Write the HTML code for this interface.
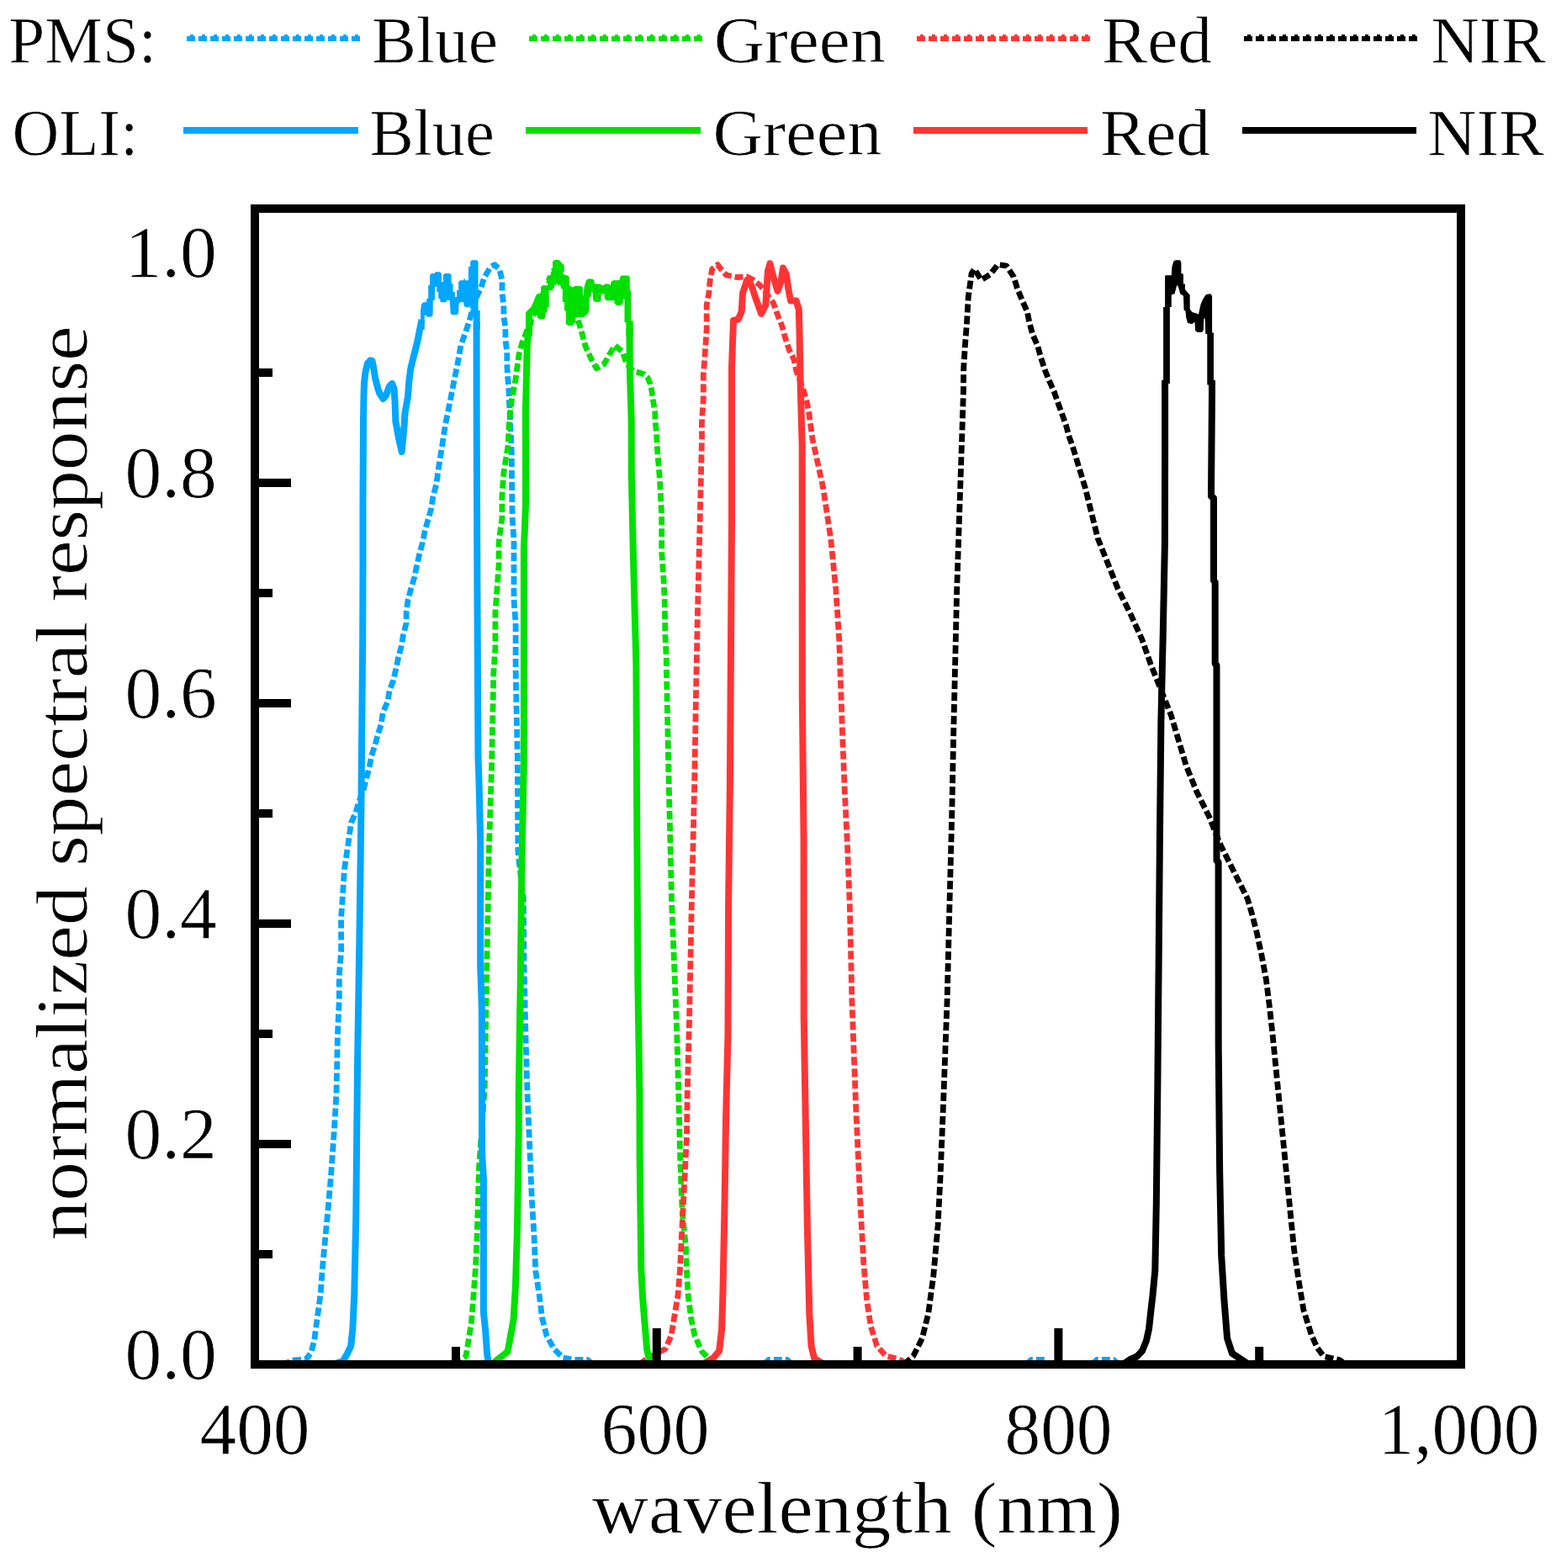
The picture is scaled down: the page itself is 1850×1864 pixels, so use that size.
<!DOCTYPE html>
<html><head><meta charset="utf-8"><title>Spectral response</title>
<style>
html,body{margin:0;padding:0;background:#fff;}
body{width:1850px;height:1864px;overflow:hidden;}
svg{display:block;}
text{font-family:"Liberation Serif", "DejaVu Serif", serif;fill:#000;stroke:#fff;stroke-width:0.7px;}
</style></head>
<body>
<svg width="1850" height="1864" viewBox="0 0 1850 1864">
<rect width="1850" height="1864" fill="#fff"/>
<g id="legend" shape-rendering="crispEdges">
<line x1="222" y1="46" x2="428" y2="46" stroke="#00A6FF" stroke-width="6" stroke-dasharray="10 4"/>
<line x1="628.5" y1="46" x2="835" y2="46" stroke="#00E000" stroke-width="6" stroke-dasharray="10 4"/>
<line x1="1090" y1="46" x2="1295.5" y2="46" stroke="#FF3535" stroke-width="6" stroke-dasharray="10 4"/>
<line x1="1478.5" y1="46" x2="1685" y2="46" stroke="#000000" stroke-width="6" stroke-dasharray="10 4"/>
<line x1="226" y1="42" x2="428" y2="42" stroke="#00A6FF" stroke-width="2" stroke-dasharray="4 10"/>
<line x1="632.5" y1="42" x2="835" y2="42" stroke="#00E000" stroke-width="2" stroke-dasharray="4 10"/>
<line x1="1094" y1="42" x2="1295.5" y2="42" stroke="#FF3535" stroke-width="2" stroke-dasharray="4 10"/>
<line x1="1482.5" y1="42" x2="1685" y2="42" stroke="#000000" stroke-width="2" stroke-dasharray="4 10"/>
<line x1="218" y1="155" x2="425.5" y2="155" stroke="#00A6FF" stroke-width="8"/>
<line x1="624.5" y1="155" x2="832.5" y2="155" stroke="#00E000" stroke-width="8"/>
<line x1="1086" y1="155" x2="1293" y2="155" stroke="#FF3535" stroke-width="8"/>
<line x1="1477" y1="155" x2="1684" y2="155" stroke="#000000" stroke-width="8"/>
</g>
<g id="texts">
<text x="10.3" y="74" font-size="78" textLength="176" lengthAdjust="spacingAndGlyphs">PMS:</text>
<text x="442" y="74" font-size="78" textLength="150" lengthAdjust="spacingAndGlyphs">Blue</text>
<text x="848.7" y="74" font-size="78" textLength="204" lengthAdjust="spacingAndGlyphs">Green</text>
<text x="1310" y="74" font-size="78" textLength="131" lengthAdjust="spacingAndGlyphs">Red</text>
<text x="1701.4" y="74" font-size="78" textLength="136.3" lengthAdjust="spacingAndGlyphs">NIR</text>
<text x="14.5" y="183.5" font-size="78" textLength="150" lengthAdjust="spacingAndGlyphs">OLI:</text>
<text x="439.5" y="183.5" font-size="78" textLength="148.5" lengthAdjust="spacingAndGlyphs">Blue</text>
<text x="847.4" y="183.5" font-size="78" textLength="201" lengthAdjust="spacingAndGlyphs">Green</text>
<text x="1308" y="183.5" font-size="78" textLength="131" lengthAdjust="spacingAndGlyphs">Red</text>
<text x="1697.2" y="183.5" font-size="78" textLength="139" lengthAdjust="spacingAndGlyphs">NIR</text>
<text x="148.4" y="1639.0" font-size="86" textLength="109.5" lengthAdjust="spacingAndGlyphs">0.0</text>
<text x="148.4" y="1377.0" font-size="86" textLength="109.5" lengthAdjust="spacingAndGlyphs">0.2</text>
<text x="148.4" y="1115.0" font-size="86" textLength="109.5" lengthAdjust="spacingAndGlyphs">0.4</text>
<text x="148.4" y="853.0" font-size="86" textLength="109.5" lengthAdjust="spacingAndGlyphs">0.6</text>
<text x="148.4" y="591.0" font-size="86" textLength="109.5" lengthAdjust="spacingAndGlyphs">0.8</text>
<text x="148.4" y="329.0" font-size="86" textLength="109.5" lengthAdjust="spacingAndGlyphs">1.0</text>
<text x="237.5" y="1727.5" font-size="86" textLength="131" lengthAdjust="spacingAndGlyphs">400</text>
<text x="714.6" y="1727.5" font-size="86" textLength="129" lengthAdjust="spacingAndGlyphs">600</text>
<text x="1194.5" y="1727.5" font-size="86" textLength="128" lengthAdjust="spacingAndGlyphs">800</text>
<text x="1638.5" y="1727.5" font-size="86" textLength="192" lengthAdjust="spacingAndGlyphs">1,000</text>
<text x="704" y="1821.5" font-size="86" textLength="631" lengthAdjust="spacingAndGlyphs">wavelength (nm)</text>
<text transform="translate(103,1474.5) rotate(-90)" x="0" y="0" font-size="86" textLength="1087" lengthAdjust="spacingAndGlyphs">normalized spectral response</text>
</g>
<g id="curves" fill="none" stroke-linejoin="round" stroke-linecap="butt">
<polyline points="335.0,1622.0 349.5,1617.0 363.7,1616.0 369.6,1608.7 373.5,1594.4 377.4,1565.8 381.2,1537.3 383.2,1510.0 385.8,1481.5 389.7,1441.3 393.6,1397.0 395.5,1369.7 397.5,1341.2 400.0,1299.7 401.4,1231.0 403.3,1188.1 403.3,1159.6 405.6,1131.0 405.6,1090.8 407.6,1062.3 409.4,1033.7 413.7,1005.2 415.6,990.9 417.6,978.0 422.8,966.3 426.7,953.3 432.5,937.7 435.7,924.8 439.0,913.1 441.6,898.8 445.5,887.1 449.4,872.9 453.2,861.2 455.2,847.0 461.0,834.0 463.0,821.0 467.5,809.3 470.8,795.0 473.4,782.7 477.3,767.8 479.2,756.1 483.1,740.5 483.1,727.6 485.0,713.3 488.9,699.0 492.8,686.0 495.4,673.1 498.7,658.8 502.5,644.5 505.1,631.6 509.0,617.3 512.9,604.3 514.9,590.0 518.8,575.8 520.7,561.5 522.7,548.5 524.6,536.9 527.2,520.0 529.7,504.0 535.0,478.0 540.0,452.0 544.0,432.7 547.9,410.7 553.0,396.4 558.3,380.8 563.0,362.0 568.0,350.0 572.0,342.0 575.6,330.2 583.4,317.2 587.9,314.6 593.7,319.8 597.0,332.8 597.0,348.4 598.9,362.7 598.9,375.6 600.9,389.9 600.9,404.2 602.8,418.4 602.8,432.7 603.5,447.0 604.8,461.3 605.4,475.5 606.1,489.8 606.7,504.1 607.4,518.3 608.4,540.0 608.4,560.0 609.1,614.3 611.0,642.4 611.0,712.7 613.1,740.8 613.1,795.6 615.3,901.6 615.9,1013.0 622.3,1069.0 623.1,1152.6 625.1,1236.3 627.1,1302.0 628.9,1343.6 630.7,1385.4 632.4,1427.3 635.0,1469.1 636.8,1511.0 641.1,1538.9 644.6,1566.8 649.9,1587.7 658.6,1603.4 669.0,1613.9 683.0,1616.5 698.7,1616.5 705.0,1622.0" stroke="#00A6FF" stroke-width="6.8" stroke-dasharray="10 4" />
<polyline points="908.0,1622.0 914.0,1616.5 936.0,1616.5 942.0,1622.0" stroke="#00A6FF" stroke-width="6.8" stroke-dasharray="10 4" />
<polyline points="1220.0,1622.0 1226.0,1616.5 1242.0,1616.5 1248.0,1622.0" stroke="#00A6FF" stroke-width="6.8" stroke-dasharray="10 4" />
<polyline points="1298.0,1622.0 1304.0,1616.5 1324.0,1616.5 1330.0,1622.0" stroke="#00A6FF" stroke-width="6.8" stroke-dasharray="10 4" />
<polyline points="540.0,1622.0 554.0,1612.0 556.6,1596.4 560.6,1570.3 562.7,1544.0 565.3,1509.0 567.0,1474.4 569.6,1387.0 576.3,1292.0 577.7,1208.0 579.0,1136.0 580.4,1069.0 581.3,1013.0 584.6,910.0 586.9,798.4 588.9,770.3 588.9,728.2 590.9,701.5 593.1,672.0 593.1,645.2 594.8,631.2 596.9,615.7 596.9,589.0 599.0,561.0 604.0,530.0 605.4,504.1 608.0,478.1 610.6,463.8 613.2,449.6 615.1,435.3 617.1,421.0 621.0,406.8 624.9,397.7 629.0,385.0 633.0,377.0 637.0,369.0 641.0,360.0 645.0,350.0 649.0,342.0 654.0,334.0 658.5,325.0 661.0,317.0 662.5,313.5 665.0,317.0 667.0,322.0 670.0,332.0 673.0,342.0 676.0,352.0 679.0,362.0 682.0,370.0 686.0,378.0 689.0,386.0 692.3,397.7 696.2,412.0 702.7,426.2 709.2,437.9 718.3,432.7 724.8,421.0 731.2,410.7 740.3,418.4 744.2,430.1 749.4,438.0 754.0,441.5 760.0,443.0 766.0,445.0 770.0,449.0 773.0,456.0 775.0,465.0 776.5,476.0 778.6,488.5 779.3,502.8 780.6,515.7 781.2,530.0 784.6,572.2 786.7,614.3 786.7,656.5 788.8,684.6 790.2,712.7 790.9,754.9 792.3,783.0 792.4,795.6 795.2,929.5 798.5,1069.0 804.5,1218.9 806.8,1300.0 808.5,1369.7 811.1,1439.5 815.5,1483.0 816.4,1509.2 818.1,1538.9 821.6,1566.8 826.0,1587.7 834.7,1606.9 841.7,1613.9 850.0,1622.0" stroke="#00E000" stroke-width="6.8" stroke-dasharray="10 4" />
<polyline points="760.0,1622.0 768.4,1615.6 791.1,1603.4 798.1,1587.7 801.5,1566.8 805.9,1540.6 808.5,1509.2 811.1,1456.9 813.8,1404.6 816.4,1352.3 817.2,1300.0 819.4,1218.9 822.3,1076.0 825.5,940.5 827.6,820.4 829.4,730.3 832.4,610.0 834.5,520.0 834.4,502.8 836.3,474.2 836.3,445.7 838.3,419.7 840.2,391.2 840.2,362.7 842.8,348.4 844.1,334.1 846.7,319.8 853.2,314.6 857.1,319.8 863.6,327.0 876.5,329.6 888.2,328.9 896.0,333.0 903.8,339.3 912.0,350.0 919.4,360.0 924.5,374.3 929.7,387.3 933.6,401.6 938.2,415.8 944.0,427.5 946.6,440.5 951.0,452.0 955.7,465.1 959.6,479.4 962.2,493.7 964.1,508.0 966.0,522.0 978.7,580.0 987.7,640.2 993.8,700.2 997.7,760.3 999.8,820.4 1001.9,880.5 1004.3,940.5 1007.3,1000.6 1010.3,1075.7 1012.9,1189.0 1017.3,1308.2 1022.7,1427.2 1026.8,1501.7 1030.7,1546.3 1035.2,1576.1 1042.6,1600.0 1053.0,1611.8 1068.0,1615.5 1080.0,1622.0" stroke="#FF3535" stroke-width="6.8" stroke-dasharray="10 4" />
<polyline points="1075.0,1622.0 1086.0,1611.8 1096.4,1591.0 1103.8,1561.2 1109.8,1516.6 1115.1,1457.0 1118.1,1397.5 1121.7,1308.2 1126.1,1189.0 1129.1,1070.0 1131.7,970.6 1133.5,880.5 1135.6,790.4 1137.7,700.2 1140.7,610.1 1143.7,520.0 1145.4,466.4 1145.7,437.9 1147.4,410.7 1149.6,382.1 1151.2,353.6 1153.2,339.3 1155.1,325.0 1158.4,319.8 1166.8,332.8 1177.2,326.3 1186.3,314.6 1196.7,316.0 1205.1,328.9 1209.6,343.2 1215.5,357.5 1221.3,370.4 1223.9,383.4 1227.8,397.7 1233.6,410.7 1237.5,424.9 1242.1,439.2 1247.3,452.2 1253.1,465.1 1257.6,478.1 1262.8,492.4 1267.4,505.4 1271.3,519.6 1275.1,530.0 1290.3,580.1 1305.3,640.2 1317.3,670.2 1329.3,700.2 1344.3,730.3 1357.9,760.3 1368.4,790.4 1380.4,820.4 1392.4,850.4 1401.4,880.5 1410.4,910.5 1422.5,940.5 1437.5,970.6 1449.5,1000.6 1451.7,1005.5 1462.8,1027.7 1474.0,1050.0 1483.2,1068.4 1488.7,1087.0 1494.3,1109.0 1499.9,1135.0 1505.4,1164.7 1509.1,1194.3 1512.8,1227.6 1516.5,1264.6 1520.2,1301.6 1523.9,1338.6 1527.6,1375.6 1531.3,1412.6 1535.0,1449.6 1538.7,1486.6 1544.3,1523.6 1549.8,1557.0 1559.1,1586.6 1566.0,1602.0 1573.9,1612.5 1592.4,1616.5 1600.0,1622.0" stroke="#000000" stroke-width="6.8" stroke-dasharray="10 4" />
<polyline points="395.0,1622.0 407.8,1618.0 413.0,1609.0 417.2,1600.0 419.3,1580.0 421.2,1540.0 423.2,1450.0 425.1,1260.0 427.3,1120.0 429.2,980.0 431.2,760.0 431.5,674.0 431.5,600.0 432.0,500.0 432.5,470.0 433.0,455.0 434.5,442.0 437.0,432.0 440.0,428.5 442.5,429.0 444.0,436.0 446.0,449.0 448.5,459.0 451.0,467.0 455.5,474.0 459.0,470.0 462.5,460.0 466.1,456.0 468.5,462.0 469.5,476.6 470.4,500.8 473.8,520.1 477.7,537.0 480.6,505.6 481.5,491.1 484.9,471.8 486.4,452.5 488.3,438.0 491.5,425.0 494.0,415.0 496.5,405.0 499.0,392.0 501.5,380.0" stroke="#00A6FF" stroke-width="8" />
<polyline points="566.7,382.0 566.6,400.0 566.7,500.0 567.4,700.0 568.5,900.0 569.3,922.0 571.2,1000.0 571.2,1149.0 572.9,1200.0 573.1,1373.0 574.9,1400.0 574.9,1559.8 577.0,1580.0 579.2,1610.0 581.0,1622.0" stroke="#00A6FF" stroke-width="8" />
<polygon points="500.0,392.0 500.0,369.0 501.2,361.3 503.4,359.2 507.2,359.2 507.2,355.0 509.2,355.0 509.2,339.1 511.1,339.1 511.1,327.0 513.0,325.1 517.1,325.1 517.1,323.2 522.9,323.2 524.9,325.1 524.9,335.2 527.0,335.2 527.0,327.0 529.0,325.1 534.8,325.1 536.7,327.0 536.7,337.2 538.6,337.2 538.6,347.1 540.8,347.1 540.8,353.1 543.0,353.1 543.0,345.1 545.1,345.1 545.1,335.2 547.1,333.3 551.2,333.3 551.2,331.4 552.9,331.4 552.9,333.3 557.0,333.3 557.0,317.1 559.2,317.1 559.2,311.1 561.1,309.2 566.9,309.2 568.6,311.1 568.6,369.0 570.7,369.0 570.7,392.0 562.8,392.0 562.8,376.0 559.5,376.0 559.2,367.6 561.0,367.6 561.0,363.0 558.8,362.8 558.3,365.2 553.3,365.2 551.5,363.0 551.2,359.2 547.3,359.2 545.6,361.0 545.1,372.4 542.9,374.3 537.6,374.3 535.6,372.4 534.8,357.1 531.1,357.1 530.6,359.2 523.6,359.2 523.2,355.0 521.2,355.0 521.2,347.1 519.3,347.1 519.3,341.1 517.1,341.1 516.9,357.1 514.8,357.1 514.6,374.8 512.3,376.7 507.7,376.7 506.8,374.8 504.8,374.8 504.8,392.0" fill="#00A6FF" stroke="none"/>
<polyline points="585.0,1622.0 592.3,1615.6 603.6,1606.9 607.1,1587.7 610.6,1568.5 612.9,1530.0 615.0,1461.3 616.7,1345.3 616.7,1300.0 618.9,1158.2 620.3,1032.7 622.8,907.0 622.9,800.0 622.9,652.3 625.0,600.0 625.0,530.0 624.9,489.8 626.8,409.4 628.9,390.0" stroke="#00E000" stroke-width="8" />
<polyline points="748.5,390.0 748.6,410.0 748.8,438.0 750.7,500.0 750.8,562.3 752.5,644.5 754.6,724.7 756.4,790.0 757.0,935.0 758.4,1169.4 760.4,1300.0 760.6,1373.2 762.3,1507.5 764.1,1542.4 766.7,1575.5 769.3,1605.0 771.9,1615.6 780.0,1622.0" stroke="#00E000" stroke-width="8" />
<polygon points="625.0,400.0 625.0,371.4 627.0,369.2 631.3,364.9 633.1,361.2 635.0,356.9 637.2,351.0 639.3,349.1 643.1,348.8 643.1,341.3 645.2,339.2 651.1,339.2 651.1,334.9 649.0,332.2 651.1,327.4 654.9,326.8 654.9,323.1 657.0,322.5 654.9,319.8 657.0,318.8 657.0,311.3 659.2,309.1 664.5,309.1 666.7,311.3 668.8,313.4 670.7,315.6 670.7,322.5 668.8,323.6 671.0,326.8 674.7,327.4 676.9,329.5 676.9,339.2 680.7,341.6 684.6,339.7 690.9,340.2 692.9,341.6 692.9,350.9 693.5,350.9 694.8,340.2 696.8,333.8 699.2,331.4 704.5,331.4 706.5,333.8 707.0,337.2 714.7,337.7 715.2,339.2 718.6,338.7 719.1,337.2 724.5,337.7 725.9,339.2 726.4,335.3 728.9,333.3 736.6,332.9 737.1,329.5 739.1,327.5 746.8,327.5 748.8,329.5 748.8,345.0 750.3,345.5 750.3,381.0 752.7,381.5 752.7,400.0 744.4,400.0 744.4,383.5 742.5,383.0 742.5,355.7 741.0,355.2 740.5,360.6 738.1,363.0 733.2,363.0 730.8,361.1 730.3,357.2 721.1,357.2 718.6,354.7 718.6,349.4 714.7,349.4 714.7,357.2 712.3,359.1 707.5,359.1 705.0,356.7 704.5,347.5 703.1,347.5 702.6,352.8 700.6,353.8 700.6,368.9 698.7,373.2 693.8,377.2 684.6,377.6 684.1,383.0 680.7,386.9 675.4,387.3 672.9,384.9 672.9,369.8 671.0,369.2 671.0,359.0 668.8,359.0 668.8,343.5 666.7,342.9 666.7,339.7 662.9,338.6 661.8,337.0 660.8,338.6 659.2,339.7 658.6,342.9 657.0,343.5 656.5,345.1 652.7,345.6 652.7,364.9 650.6,365.5 650.6,370.8 649.0,371.4 648.4,377.3 646.8,379.4 640.9,379.4 638.8,377.3 638.8,375.1 632.9,375.1 632.9,378.9 634.5,379.4 634.5,386.9 632.9,387.4 632.9,400.0" fill="#00E000" stroke="none"/>
<polyline points="835.0,1622.0 847.6,1614.8 855.1,1606.0 858.1,1580.6 859.5,1535.9 861.6,1427.2 863.1,1327.5 865.5,1229.3 866.1,1075.0 867.9,933.0 870.0,620.6 870.0,436.6 872.0,380.8 877.8,379.5 881.7,370.4 883.0,348.4 888.2,332.8 893.4,339.3 898.6,354.9 905.1,373.0 910.3,362.7 912.9,322.4 915.5,313.4 919.4,328.9 924.5,345.8 928.4,335.4 931.0,318.5 934.9,326.3 937.5,344.5 940.1,357.5 946.6,357.5 949.8,367.8 950.5,393.8 951.8,462.6 953.7,530.0 953.8,824.9 955.6,1000.0 955.7,1207.0 957.8,1333.5 959.9,1460.0 962.3,1561.2 964.6,1600.0 968.2,1614.8 980.0,1622.0" stroke="#FF3535" stroke-width="8" />
<polyline points="1335.0,1622.0 1343.0,1616.5 1351.8,1612.5 1358.0,1606.0 1362.9,1594.0 1366.0,1580.0 1368.5,1557.0 1370.5,1540.0 1373.3,1510.6 1374.8,1431.7 1376.3,1296.3 1378.1,1093.8 1378.9,1000.0 1380.4,857.9 1382.8,752.8 1384.9,646.2 1385.1,530.0 1385.1,470.0 1385.1,452.0" stroke="#000000" stroke-width="8" />
<polyline points="1441.0,452.0 1441.0,470.0 1440.5,530.0 1440.0,590.0 1443.0,592.0 1443.0,690.0 1444.7,692.0 1444.7,789.0 1446.5,791.0 1446.5,1023.0 1448.6,1025.0 1448.6,1100.0 1448.7,1242.7 1450.2,1394.5 1452.2,1492.7 1455.5,1546.3 1459.1,1591.0 1465.0,1608.9 1474.0,1614.8 1485.0,1622.0" stroke="#000000" stroke-width="8" />
<polygon points="1381.2,462.0 1381.2,456.1 1383.1,456.1 1383.1,365.0 1385.1,365.0 1385.1,328.6 1386.0,327.3 1392.8,327.3 1393.4,317.0 1395.4,310.6 1397.9,309.3 1403.1,309.3 1404.4,311.9 1404.4,324.8 1407.0,326.0 1407.0,337.6 1408.9,337.6 1408.9,344.1 1413.4,349.2 1414.7,350.5 1414.7,367.3 1417.3,371.1 1422.4,372.4 1425.0,373.7 1427.5,362.1 1430.1,355.7 1434.0,349.9 1439.1,349.2 1441.1,351.8 1441.1,395.6 1443.0,395.6 1443.0,456.1 1444.9,456.1 1444.9,462.0 1437.2,462.0 1437.2,457.4 1435.3,457.4 1435.3,396.9 1433.3,396.9 1432.7,378.8 1431.4,378.8 1430.8,393.0 1428.8,394.9 1423.7,394.9 1421.1,393.0 1420.5,382.7 1417.3,385.3 1412.1,384.0 1410.2,377.5 1409.5,369.8 1407.6,368.5 1407.0,351.8 1403.1,349.2 1401.2,341.5 1399.2,338.9 1396.6,349.2 1392.8,350.5 1392.8,365.0 1390.9,365.0 1390.9,456.1 1388.9,456.1 1388.9,462.0" fill="#000000" stroke="none"/>
</g>
<g id="axes">
<rect x="303" y="248" width="1434" height="1374" fill="none" stroke="#000" stroke-width="10" />
<rect x="537.0" y="1601" width="10" height="16" fill="#000"/>
<rect x="775.8" y="1579" width="10" height="38" fill="#000"/>
<rect x="1014.6" y="1601" width="10" height="16" fill="#000"/>
<rect x="1253.4" y="1579" width="10" height="38" fill="#000"/>
<rect x="1492.2" y="1601" width="10" height="16" fill="#000"/>
<rect x="308" y="1486.0" width="16" height="10" fill="#000"/>
<rect x="308" y="1355.0" width="38" height="10" fill="#000"/>
<rect x="308" y="1224.0" width="16" height="10" fill="#000"/>
<rect x="308" y="1093.0" width="38" height="10" fill="#000"/>
<rect x="308" y="962.0" width="16" height="10" fill="#000"/>
<rect x="308" y="831.0" width="38" height="10" fill="#000"/>
<rect x="308" y="700.0" width="16" height="10" fill="#000"/>
<rect x="308" y="569.0" width="38" height="10" fill="#000"/>
<rect x="308" y="438.0" width="16" height="10" fill="#000"/>
</g>
</svg>
</body></html>
